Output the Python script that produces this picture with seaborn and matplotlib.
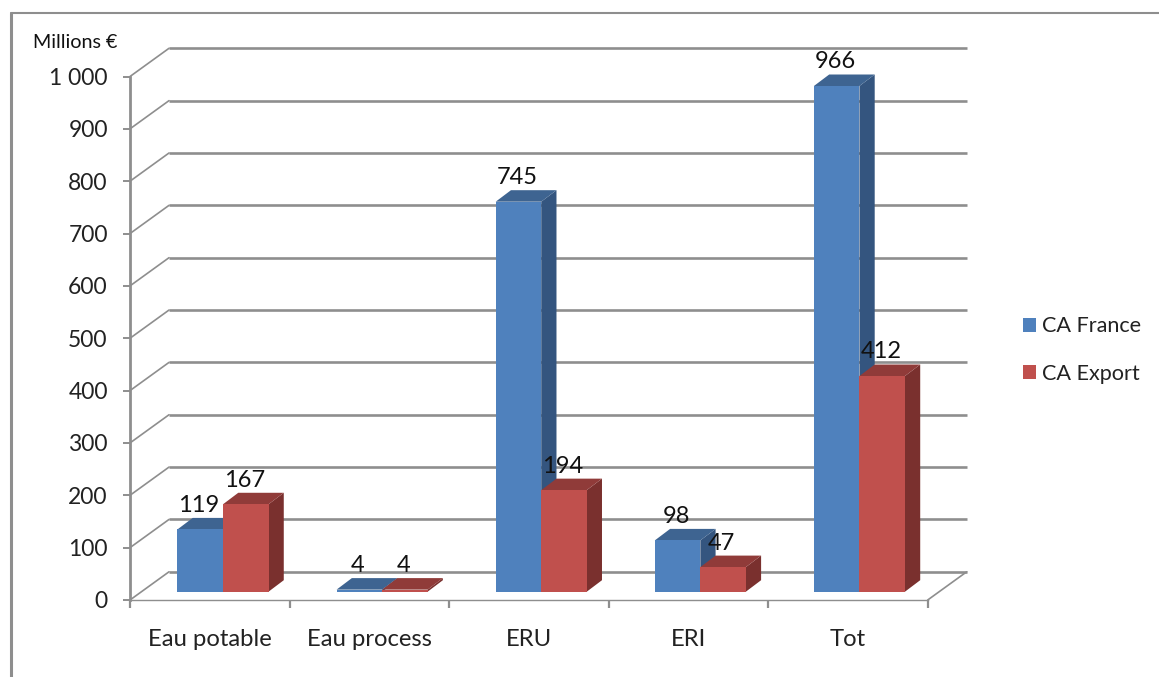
#!/usr/bin/env python3
"""CA France / CA Export par segment, façon histogramme 3D d'Excel."""

import matplotlib.pyplot as plt
import numpy as np
import pandas as pd
import seaborn as sns
from matplotlib.lines import Line2D
from matplotlib.patches import Patch, Polygon

W, H = 1159, 677

CATEGORIES = ["Eau potable", "Eau process", "ERU", "ERI", "Tot"]
CA_FRANCE = [119, 4, 745, 98, 966]
CA_EXPORT = [167, 4, 194, 47, 412]
SERIES = ["CA France", "CA Export"]
Y_TICKS = list(range(0, 1001, 100))
Y_LABELS = ["0", "100", "200", "300", "400", "500", "600", "700", "800", "900", "1 000"]

FACE = {"CA France": "#4F81BD", "CA Export": "#C0504D"}
SIDE = {"CA France": "#34557F", "CA Export": "#7A302E"}
TOP = {"CA France": "#3E6491", "CA Export": "#903B39"}
GRID = "#8E8E8E"

# Repères en pixels : plan avant des axes, plan des barres, profondeurs
FRONT = (130.0, 927.7, 600.0, 76.5)
BAR_PLANE = (143.45, 939.0, 591.7, 68.2)
WALL_DEPTH = (39.0, 28.2)
BAR_DEPTH = (15.3, 11.5)

PX_X = (FRONT[1] - FRONT[0]) / len(CATEGORIES)
PX_Y = (FRONT[2] - FRONT[3]) / 1000


def axes_rect(x0, x1, y_bottom, y_top):
    return [x0 / W, 1 - y_bottom / H, (x1 - x0) / W, (y_bottom - y_top) / H]


sns.set_style("white")
plt.rcParams["font.family"] = ["Lato", "DejaVu Sans"]

df = pd.DataFrame({
    "cat": CATEGORIES * 2,
    "serie": [SERIES[0]] * 5 + [SERIES[1]] * 5,
    "val": CA_FRANCE + CA_EXPORT,
})

fig = plt.figure(figsize=(W / 100, H / 100), dpi=100)

# Cadre du graphique (gauche + haut)
fig.add_artist(Line2D([10.5 / W, 10.5 / W], [0, 1 - 13 / H], color=GRID, lw=2.2))
fig.add_artist(Line2D([10.5 / W, 1], [1 - 13 / H, 1 - 13 / H], color=GRID, lw=1.5))

# ── Plan avant : axes, graduations, murs ──
front = fig.add_axes(axes_rect(*FRONT), zorder=1)
front.set_xlim(-0.5, len(CATEGORIES) - 0.5)
front.set_ylim(0, 1000)
for name in ["top", "right"]:
    front.spines[name].set_visible(False)
front.spines["left"].set(color=GRID, linewidth=2.0)
front.spines["bottom"].set(color=GRID, linewidth=1.0)

front.set_yticks(Y_TICKS, Y_LABELS)
front.tick_params(axis="y", length=5, width=1.4, color=GRID, pad=11, labelsize=16.5,
                  labelcolor="#222222", left=True)
front.set_xticks(np.arange(len(CATEGORIES)), CATEGORIES)
front.set_xticks(np.arange(len(CATEGORIES) + 1) - 0.5, minor=True)
front.tick_params(axis="x", which="major", length=0, pad=21, labelsize=17.2, labelcolor="#222222")
front.tick_params(axis="x", which="minor", length=6, width=1.6, color=GRID, bottom=True)

dx_wall = WALL_DEPTH[0] / PX_X
dy_wall = WALL_DEPTH[1] / PX_Y
x_left, x_right = front.get_xlim()
for v in Y_TICKS:
    front.plot([x_left, x_left + dx_wall], [v, v + dy_wall], color=GRID, lw=1.2, clip_on=False)
    front.plot([x_left + dx_wall, x_right + dx_wall], [v + dy_wall, v + dy_wall],
               color=GRID, lw=1.9, clip_on=False, solid_capstyle="butt")
front.plot([x_right, x_right + dx_wall], [0, dy_wall], color=GRID, lw=1.2, clip_on=False)

# ── Barres ──
bars = fig.add_axes(axes_rect(*BAR_PLANE), zorder=2)
sns.barplot(data=df, x="cat", y="val", hue="serie", hue_order=SERIES, palette=FACE,
            order=CATEGORIES, width=0.572, gap=0, saturation=1, legend=False, ax=bars,
            linewidth=0)
bars.set_xlim(-0.5, len(CATEGORIES) - 0.5)
bars.set_ylim(0, 1000)
bars.axis("off")

dx_bar = BAR_DEPTH[0] / PX_X
dy_bar = BAR_DEPTH[1] / PX_Y
n_cat = len(CATEGORIES)
for i, patch in enumerate(bars.patches[:2 * n_cat]):
    serie = SERIES[i // n_cat]
    x0, x1 = patch.get_x(), patch.get_x() + patch.get_width()
    h = patch.get_height()
    z = 3 + (i % n_cat) * 2 + i // n_cat
    patch.set_zorder(z + 0.5)
    bars.add_patch(Polygon([(x1, 0), (x1 + dx_bar, dy_bar), (x1 + dx_bar, h + dy_bar), (x1, h)],
                           fc=SIDE[serie], ec="none", zorder=z, clip_on=False))
    bars.add_patch(Polygon([(x0, h), (x0 + dx_bar, h + dy_bar), (x1 + dx_bar, h + dy_bar), (x1, h)],
                           fc=TOP[serie], ec="none", zorder=z, clip_on=False))
    bars.annotate(f"{h:.0f}", ((x0 + x1) / 2, h), xytext=(-1, 17.3), textcoords="offset points",
                  ha="center", va="center", fontsize=17, color="#111111", zorder=20,
                  annotation_clip=False)

# ── Légende et titre d'unité ──
handles = [Patch(fc=FACE[s], ec="none", label=s) for s in SERIES]
fig.legend(handles=handles, loc="center left", bbox_to_anchor=(1003 / W, 1 - 350 / H),
           frameon=False, fontsize=15.6, labelspacing=1.25, handlelength=0.6,
           handleheight=0.6, handletextpad=0.3, labelcolor="#222222")
fig.text(33 / W, 1 - 42 / H, "Millions €", fontsize=14.2, va="center", ha="left", color="#111111")

fig.savefig("out.png", dpi=100)
